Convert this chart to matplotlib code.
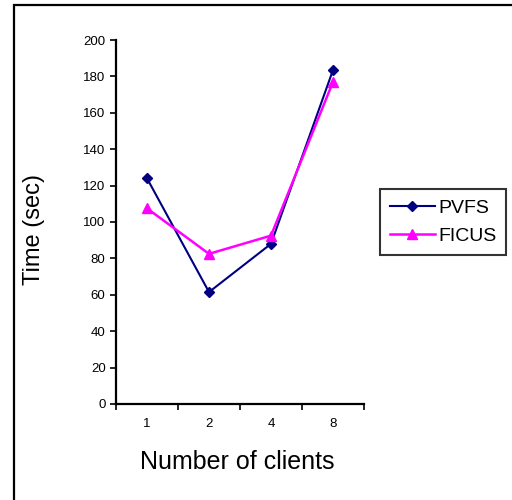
import numpy as np
import matplotlib
matplotlib.use("Agg")
import matplotlib.pyplot as plt
from matplotlib.patches import Rectangle

clients = ["1", "2", "4", "8"]
pvfs = [124, 61.5, 88, 183.5]
ficus = [107.5, 82.5, 92.5, 177]

plt.rcParams["font.family"] = ["Liberation Sans", "DejaVu Sans"]

fig = plt.figure(figsize=(5.12, 5.0), dpi=100)
fig.patches.append(Rectangle((14 / 512, -0.1), 1.2, 0.1 + 495 / 500,
                             transform=fig.transFigure, fill=False,
                             edgecolor="black", linewidth=1.6))

ax = fig.add_axes([116 / 512, 96 / 500, 248 / 512, 364 / 500])
x = np.arange(1, len(clients) + 1)
ax.plot(x, pvfs, color="#000080", marker="D", markersize=5.5, linewidth=1.5, label="PVFS")
ax.plot(x, ficus, color="#FF00FF", marker="^", markersize=7, linewidth=1.8, label="FICUS")

ax.set_xlim(0.5, len(clients) + 0.5)
ax.set_ylim(0, 200)
ax.set_yticks(np.arange(0, 201, 20))
ax.set_xticks(np.arange(0.5, len(clients) + 1, 1))
ax.set_xticklabels([])
ax.set_xticks(x, minor=True)
ax.set_xticklabels(clients, minor=True)
ax.tick_params(axis="x", which="major", direction="out", length=4, width=1.2)
ax.tick_params(axis="x", which="minor", length=0, pad=10, labelsize=9.5)
ax.tick_params(axis="y", direction="out", length=4, width=1.2, labelsize=9.5)

for s in ["top", "right"]:
    ax.spines[s].set_visible(False)
for s in ["left", "bottom"]:
    ax.spines[s].set_linewidth(1.6)

ax.set_ylabel("Time (sec)", fontsize=17, va="center")
ax.yaxis.set_label_coords(-0.33, 0.48)
ax.set_xlabel("Number of clients", fontsize=18, va="center")
ax.xaxis.set_label_coords(0.49, -0.16)

leg = ax.legend(loc="center left", bbox_to_anchor=(1.065, 0.5), frameon=True,
                fancybox=False, edgecolor="black", fontsize=14,
                handlelength=2.3, borderpad=0.5, labelspacing=0.55,
                handletextpad=0.2, borderaxespad=0)
leg.get_frame().set_linewidth(1.5)

fig.savefig("out.png", dpi=100)
